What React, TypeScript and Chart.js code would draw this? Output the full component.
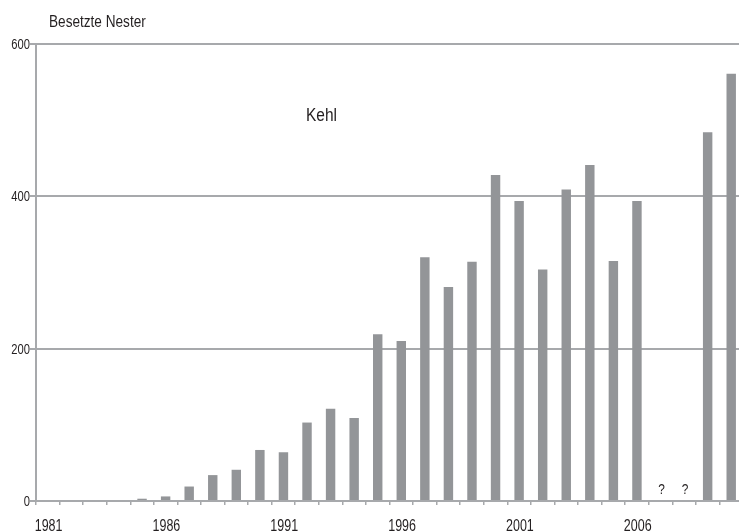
import React, { useEffect, useRef } from "react";
import { Chart, registerables } from "chart.js";

Chart.register(...registerables);

const years: number[] = [
  1981, 1982, 1983, 1984, 1985, 1986, 1987, 1988, 1989, 1990,
  1991, 1992, 1993, 1994, 1995, 1996, 1997, 1998, 1999, 2000,
  2001, 2002, 2003, 2004, 2005, 2006, 2007, 2008, 2009, 2010,
];
const nests: (number | null)[] = [
  0, 0, 0, 0, 3, 6, 19, 34, 41, 67,
  64, 103, 121, 109, 219, 210, 320, 281, 314, 428,
  394, 304, 409, 441, 315, 394, null, null, 484, 561,
];
const missingYears: number[] = [2007, 2008];
const labeledYears: number[] = [1981, 1986, 1991, 1996, 2001, 2006];
const yTicks: number[] = [0, 200, 400, 600];
const yTitle = "Besetzte Nester";
const placeName = "Kehl";

const TEXT = "#231f20";
const GRID = "#a7a9ac";
const BAR = "#939598";
const FONT = "'Liberation Sans', Arial, sans-serif";

function drawText(
  ctx: CanvasRenderingContext2D,
  text: string,
  x: number,
  y: number,
  size: number,
  sx: number,
  align: CanvasTextAlign
) {
  ctx.save();
  ctx.translate(x, y);
  ctx.scale(sx, 1);
  ctx.font = `${size}px ${FONT}`;
  ctx.textAlign = align;
  ctx.textBaseline = "alphabetic";
  ctx.fillStyle = TEXT;
  ctx.fillText(text, 0, 0);
  ctx.restore();
}

export default function App() {
  const ref = useRef<HTMLCanvasElement | null>(null);

  useEffect(() => {
    document.body.style.margin = "0";
    const canvas = ref.current!;
    const annot = {
      id: "annot",
      afterDraw(chart: any) {
        const ctx = chart.ctx as CanvasRenderingContext2D;
        const xs = chart.scales.x;
        const ys = chart.scales.y;
        const y0 = ys.getPixelForValue(0);
        // axis tick labels (condensed look)
        labeledYears.forEach((yr) => {
          const i = years.indexOf(yr);
          drawText(ctx, String(yr), xs.getPixelForValue(i) + 0.8, y0 + 29.5, 16, 0.78, "center");
        });
        yTicks.forEach((v) => {
          drawText(ctx, String(v), 30, ys.getPixelForValue(v) + 5, 14, 0.8, "right");
        });
        drawText(ctx, yTitle, 49, 26.5, 16, 0.85, "left");
        drawText(ctx, placeName, 306, 121, 18, 0.86, "left");
        missingYears.forEach((yr) => {
          const i = years.indexOf(yr);
          drawText(ctx, "?", xs.getPixelForValue(i) + 1, y0 - 7.5, 14, 0.85, "center");
        });
      },
    };
    const chart = new Chart(canvas, {
      type: "bar",
      data: {
        labels: years.map(String),
        datasets: [
          {
            data: nests,
            backgroundColor: BAR,
            borderWidth: 0,
            barPercentage: 0.4,
            categoryPercentage: 1,
          },
        ],
      },
      options: {
        animation: false,
        responsive: false,
        devicePixelRatio: 1,
        layout: { padding: { top: 44, left: 0, right: 0, bottom: 0 } },
        plugins: {
          legend: { display: false },
          tooltip: { enabled: false },
        },
        scales: {
          x: {
            offset: true,
            afterFit: (s: any) => {
              s.height = 31;
            },
            grid: {
              display: true,
              offset: true,
              drawOnChartArea: false,
              drawTicks: true,
              tickLength: 4,
              color: GRID,
              lineWidth: 1.5,
            },
            border: { display: true, color: GRID, width: 2 },
            ticks: { display: false, autoSkip: false },
          },
          y: {
            min: 0,
            max: 600,
            afterFit: (s: any) => {
              s.width = 36;
            },
            afterBuildTicks: (s: any) => {
              s.ticks = yTicks.map((v) => ({ value: v }));
            },
            grid: {
              color: GRID,
              lineWidth: 2,
              drawTicks: true,
              tickLength: 6,
            },
            border: { display: true, color: GRID, width: 2 },
            ticks: { display: false },
          },
        },
      },
      plugins: [annot],
    });
    return () => chart.destroy();
  }, []);

  return (
    <div
      style={{
        position: "fixed",
        left: 0,
        top: 0,
        width: 739,
        height: 532,
        overflow: "hidden",
        background: "#fff",
      }}
    >
      <canvas ref={ref} width={743} height={532} style={{ display: "block" }} />
    </div>
  );
}
